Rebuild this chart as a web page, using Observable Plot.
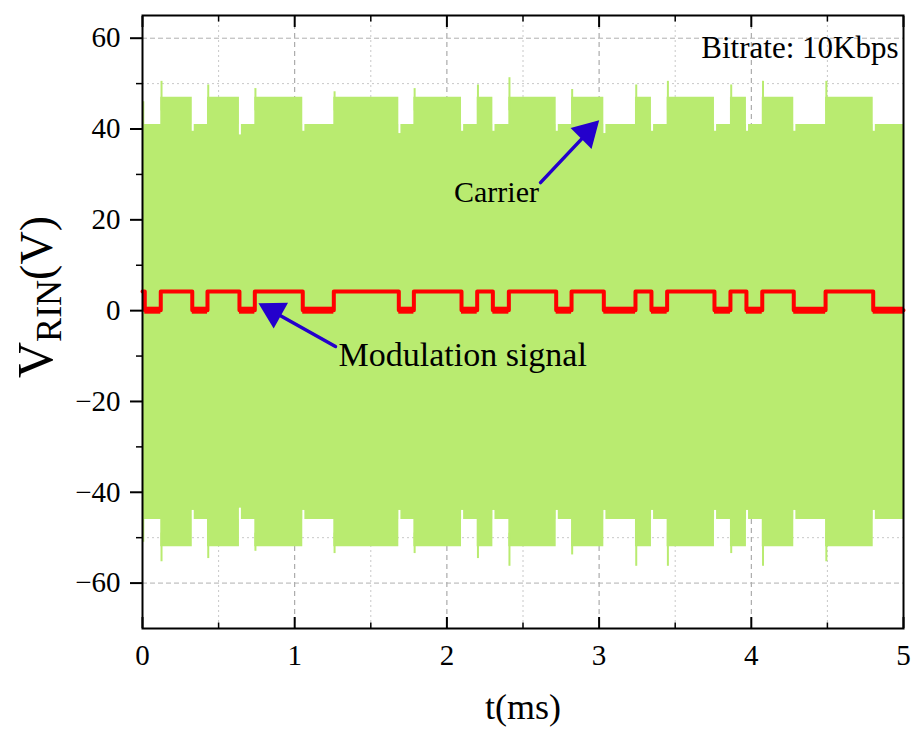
<!DOCTYPE html>
<html><head><meta charset="utf-8">
<script src="https://cdn.jsdelivr.net/npm/d3@7"></script>
<script src="https://cdn.jsdelivr.net/npm/@observablehq/plot@0.6"></script>
<style>body{margin:0;background:#fff} svg{display:block}</style>
</head><body><div id="chart"></div>
<script>
// Segment boundaries (ms) of the modulation bit stream
const edges = [0, 0.015, 0.12, 0.327, 0.427, 0.637, 0.738, 1.053, 1.257, 1.684, 1.783, 2.096, 2.199, 2.302, 2.407, 2.718, 2.819, 3.031, 3.239, 3.344, 3.447, 3.758, 3.863, 3.968, 4.072, 4.279, 4.488, 4.801, 5];
// Modulation signal level (V) per segment
const modLevel = [4.2, 0.1, 4.2, 0.1, 4.2, 0.1, 4.2, 0.1, 4.2, 0.1, 4.2, 0.1, 4.2, 0.1, 4.2, 0.1, 4.2, 0.1, 4.2, 0.1, 4.2, 0.1, 4.2, 0.1, 4.2, 0.1, 4.2, 0.1];
// Carrier envelope (V) per segment
const carrierTop    = [46, 41, 47, 41, 47, 41, 47, 41, 47, 41, 47, 41, 47, 41, 47, 41, 47, 41, 47, 41, 47, 41, 47, 41, 47, 41, 47, 41];
const carrierBottom = [-51, -46, -52, -46, -52, -46, -52, -46, -52, -46, -52, -46, -52, -46, -52, -46, -52, -46, -52, -46, -52, -46, -52, -46, -52, -46, -52, -46];
// Overshoot spikes at rising edges
const spikeT      = [0.125, 0.432, 0.742, 1.262, 1.788, 2.204, 2.411, 2.823, 3.244, 3.452, 3.868, 4.077, 4.493];
const spikeTop    = [50.5, 49.7, 48.9, 48.2, 48.9, 49.7, 51.3, 48.7, 49.7, 50.5, 49.7, 50.5, 50.5];
const spikeBottom = [-55.3, -54.6, -53.0, -53.5, -53.5, -54.6, -56.3, -53.8, -56.3, -56.3, -53.5, -56.3, -55.3];
// Dips at falling edges
const dipT      = [0.33, 0.64, 1.057, 1.688, 2.1, 2.306, 2.722, 3.035, 3.348, 3.762, 3.972, 4.283, 4.805];
const dipTop    = [39.5, 38.7, 39.5, 39.0, 39.5, 39.5, 39.5, 39.0, 39.5, 39.5, 39.5, 39.5, 39.5];
const dipBottom = [-44.0, -43.5, -44.0, -44.0, -44.0, -44.0, -44.0, -44.0, -44.0, -44.0, -44.0, -44.0, -44.0];

const xTicks = [0, 1, 2, 3, 4, 5];
const xMinor = [0.5, 1.5, 2.5, 3.5, 4.5];
const yTicks = [-60, -40, -20, 0, 20, 40, 60];
const yMinor = [-50, -30, -10, 10, 30, 50];

const green = "#b9eb70", red = "#ff0000", blue = "#2400cc";
const serif = "'Liberation Serif', 'Times New Roman', serif";

// Build step tables
const segs = modLevel.map((v, i) => ({x1: edges[i], x2: edges[i + 1], mod: v, top: carrierTop[i], bottom: carrierBottom[i]}));
const stepData = segs.map(s => ({t: s.x1, mod: s.mod, top: s.top, bottom: s.bottom}));
stepData.push({t: edges[edges.length - 1], mod: modLevel.at(-1), top: carrierTop.at(-1), bottom: carrierBottom.at(-1)});
const lowSegs = segs.filter(s => s.mod < 1);
const spikes = spikeT.map((t, i) => ({t, top: spikeTop[i], bottom: spikeBottom[i]}));
const dips = dipT.map((t, i) => ({t, top: dipTop[i], bottom: dipBottom[i]}));

const carrierArrow = [{x1: 2.615, y1: 28.2, x2: 3.0, y2: 41.9}];
const modArrow = [{x1: 1.268, y1: -7.9, x2: 0.762, y2: 1.6}];

const plot = Plot.plot({
  width: 913, height: 729,
  marginLeft: 142, marginRight: 10, marginTop: 15, marginBottom: 101,
  style: {fontFamily: serif, color: "black", background: "white"},
  x: {domain: [0, 5]},
  y: {domain: [-70, 65]},
  marks: [
    Plot.gridX(xMinor, {stroke: "#c8c8c8", strokeOpacity: 1, strokeDasharray: "2,3"}),
    Plot.gridX([1, 2, 3, 4], {stroke: "#9a9a9a", strokeOpacity: 1, strokeDasharray: "5,4"}),
    Plot.gridY(yMinor, {stroke: "#c8c8c8", strokeOpacity: 1, strokeDasharray: "2,3"}),
    Plot.gridY(yTicks, {stroke: "#b0b0b0", strokeOpacity: 1, strokeDasharray: "5,3"}),
    Plot.areaY(stepData, {x: "t", y1: "bottom", y2: "top", curve: "step-after", fill: green, fillOpacity: 1}),
    Plot.ruleX(spikes, {x: "t", y1: 44, y2: "top", stroke: green, strokeWidth: 2}),
    Plot.ruleX(spikes, {x: "t", y1: -49, y2: "bottom", stroke: green, strokeWidth: 2}),
    Plot.ruleX(dips, {x: "t", y1: 41, y2: "top", stroke: "white", strokeWidth: 2}),
    Plot.ruleX(dips, {x: "t", y1: -46, y2: "bottom", stroke: "white", strokeWidth: 2}),
    Plot.ruleY(lowSegs, {x1: "x1", x2: "x2", y: "mod", stroke: red, strokeWidth: 7}),
    Plot.line(stepData, {x: "t", y: "mod", curve: "step-after", stroke: red, strokeWidth: 4}),
    Plot.arrow(carrierArrow, {x1: "x1", y1: "y1", x2: "x2", y2: "y2", stroke: blue, strokeWidth: 3.5, headLength: 0, insetEnd: 14}),
    Plot.arrow(modArrow, {x1: "x1", y1: "y1", x2: "x2", y2: "y2", stroke: blue, strokeWidth: 3.5, headLength: 0, insetEnd: 14}),
    Plot.dot(carrierArrow, {x: "x2", y: "y2", symbol: "triangle", r: 11, fill: blue, stroke: "none", rotate: 45, dx: -12, dy: 12}),
    Plot.dot(modArrow, {x: "x2", y: "y2", symbol: "triangle", r: 11, fill: blue, stroke: "none", rotate: -61, dx: 14.9, dy: 8.1}),
    Plot.text(["Carrier"], {x: 2.326, y: 26.0, textAnchor: "middle", fontSize: 30, fill: "black", lineAnchor: "middle"}),
    Plot.text(["Modulation signal"], {x: 1.288, y: -9.9, textAnchor: "start", fontSize: 34, fill: "black", lineAnchor: "middle"}),
    Plot.text(["Bitrate: 10Kbps"], {x: 4.967, y: 57.9, textAnchor: "end", fontSize: 31, lineAnchor: "middle"}),
    Plot.frame({stroke: "black", strokeWidth: 2}),
    Plot.axisY(yTicks, {tickSize: 12, tickPadding: 10, fontSize: 29, strokeWidth: 2, label: null, tickFormat: d => d < 0 ? "\u2212" + Math.abs(d) : String(d)}),
    Plot.axisY(yMinor, {tickSize: 6, strokeWidth: 1.5, label: null, tickFormat: () => ""}),
    Plot.axisX(xTicks, {anchor: "bottom", tickSize: -11, strokeWidth: 2, label: null, tickFormat: () => ""}),
    Plot.axisX(xMinor, {anchor: "bottom", tickSize: -5.5, strokeWidth: 1.5, label: null, tickFormat: () => ""}),
    Plot.axisX(xTicks, {anchor: "top", tickSize: -11, strokeWidth: 2, label: null, tickFormat: () => ""}),
    Plot.axisX(xMinor, {anchor: "top", tickSize: -5.5, strokeWidth: 1.5, label: null, tickFormat: () => ""}),
    Plot.axisX(xTicks, {anchor: "bottom", tickSize: 0, tickPadding: 16, fontSize: 29, label: null, tickFormat: d => String(d)}),
    Plot.text(["t(ms)"], {frameAnchor: "bottom", dy: 79, fontSize: 36, lineAnchor: "middle"})
  ]
});
document.getElementById("chart").appendChild(plot);

// Y axis title with subscript
const svg = d3.select(plot);
const yl = svg.append("text")
  .attr("transform", "translate(52,297) rotate(-90)")
  .attr("text-anchor", "middle")
  .attr("font-family", serif)
  .attr("fill", "black");
yl.append("tspan").attr("font-size", 50).text("V");
yl.append("tspan").attr("font-size", 36).attr("dy", 9).text("RIN");
yl.append("tspan").attr("font-size", 46).attr("dy", -9).text("(V)");
</script>
</body></html>
